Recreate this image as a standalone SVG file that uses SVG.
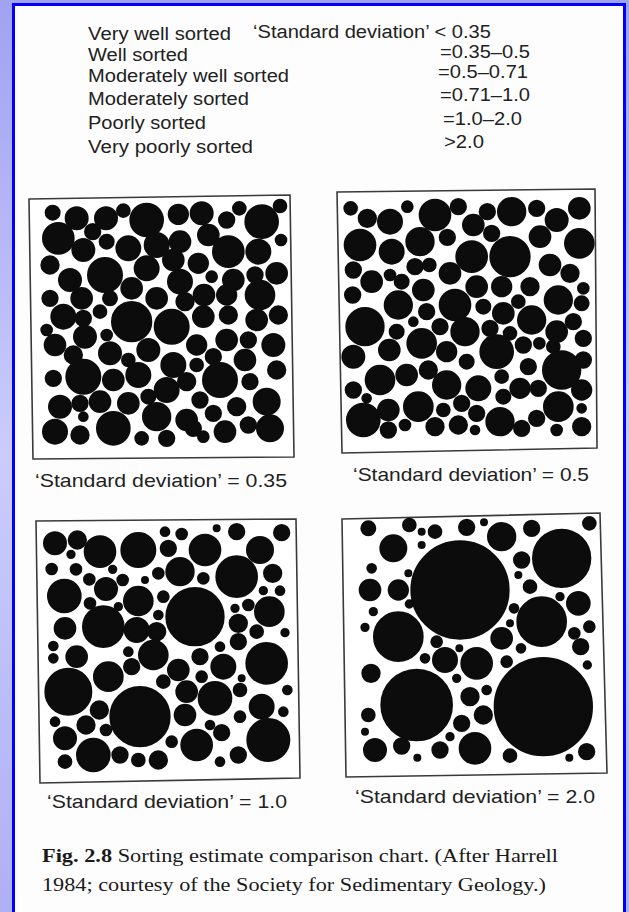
<svg xmlns="http://www.w3.org/2000/svg" width="629" height="912" viewBox="0 0 629 912">
<defs>
<linearGradient id="bg" x1="0" y1="0" x2="0" y2="1">
<stop offset="0" stop-color="#a0a2f2"/>
<stop offset="0.5" stop-color="#cbccfa"/>
<stop offset="1" stop-color="#aeb0f4"/>
</linearGradient>
<style>
.h{font-family:"Liberation Sans",Arial,sans-serif;font-size:18px;fill:#222}
.c{font-family:"Liberation Sans",Arial,sans-serif;font-size:18.5px;fill:#222}
.f{font-family:"Liberation Serif","Times New Roman",serif;font-size:19.5px;fill:#1a1a1a}
.box{fill:#fff;stroke:#3a3a3a;stroke-width:1.6}
.g circle{fill:#0c0c0c;stroke:#0c0c0c;stroke-width:8}
</style>
</defs>
<rect x="0" y="0" width="629" height="912" fill="url(#bg)"/>
<rect x="13.5" y="4.5" width="611" height="920" fill="#fdfdfd" stroke="#0000ff" stroke-width="3"/>

<g id="legend">
<text class="h" x="88" y="40" textLength="143" lengthAdjust="spacingAndGlyphs">Very well sorted</text>
<text class="h" x="253" y="38" textLength="238" lengthAdjust="spacingAndGlyphs">‘Standard deviation’ &lt; 0.35</text>
<text class="h" x="88" y="61" textLength="100" lengthAdjust="spacingAndGlyphs">Well sorted</text>
<text class="h" x="440" y="58" textLength="90" lengthAdjust="spacingAndGlyphs">=0.35–0.5</text>
<text class="h" x="88" y="82" textLength="201" lengthAdjust="spacingAndGlyphs">Moderately well sorted</text>
<text class="h" x="438" y="78" textLength="90" lengthAdjust="spacingAndGlyphs">=0.5–0.71</text>
<text class="h" x="88" y="105" textLength="161" lengthAdjust="spacingAndGlyphs">Moderately sorted</text>
<text class="h" x="440" y="101" textLength="90" lengthAdjust="spacingAndGlyphs">=0.71–1.0</text>
<text class="h" x="88" y="129" textLength="118" lengthAdjust="spacingAndGlyphs">Poorly sorted</text>
<text class="h" x="443" y="125" textLength="79" lengthAdjust="spacingAndGlyphs">=1.0–2.0</text>
<text class="h" x="88" y="153" textLength="165" lengthAdjust="spacingAndGlyphs">Very poorly sorted</text>
<text class="h" x="444" y="148" textLength="40" lengthAdjust="spacingAndGlyphs">&gt;2.0</text>
</g>

<g id="panel-035">
<polygon class="box" points="29,199 290,195 294,457 33,459"/>
<g class="g" transform="translate(0,180) scale(0.33333)">
<circle cx="158" cy="98" r="20"/><circle cx="230" cy="115" r="32"/><circle cx="318" cy="115" r="32"/><circle cx="370" cy="92" r="18"/><circle cx="440" cy="120" r="48"/><circle cx="535" cy="103" r="28"/><circle cx="605" cy="100" r="32"/><circle cx="680" cy="120" r="22"/><circle cx="718" cy="85" r="18"/><circle cx="785" cy="125" r="48"/><circle cx="840" cy="78" r="18"/>
<circle cx="175" cy="175" r="45"/><circle cx="278" cy="155" r="22"/><circle cx="250" cy="210" r="32"/><circle cx="320" cy="185" r="20"/><circle cx="385" cy="205" r="35"/><circle cx="470" cy="195" r="35"/><circle cx="540" cy="185" r="30"/><circle cx="625" cy="165" r="30"/><circle cx="685" cy="215" r="45"/><circle cx="775" cy="215" r="35"/><circle cx="843" cy="180" r="15"/>
<circle cx="150" cy="255" r="25"/><circle cx="315" cy="285" r="50"/><circle cx="210" cy="300" r="32"/><circle cx="440" cy="265" r="35"/><circle cx="520" cy="240" r="30"/><circle cx="595" cy="250" r="28"/><circle cx="395" cy="325" r="30"/><circle cx="540" cy="305" r="35"/><circle cx="635" cy="290" r="15"/><circle cx="700" cy="300" r="30"/><circle cx="765" cy="285" r="22"/><circle cx="830" cy="280" r="30"/>
<circle cx="150" cy="355" r="22"/><circle cx="245" cy="355" r="30"/><circle cx="330" cy="355" r="20"/><circle cx="470" cy="355" r="30"/><circle cx="555" cy="365" r="25"/><circle cx="612" cy="345" r="30"/><circle cx="680" cy="345" r="28"/><circle cx="780" cy="345" r="42"/><circle cx="190" cy="410" r="35"/><circle cx="300" cy="395" r="18"/><circle cx="250" cy="415" r="22"/><circle cx="395" cy="425" r="58"/><circle cx="515" cy="440" r="50"/><circle cx="610" cy="410" r="30"/><circle cx="685" cy="405" r="25"/><circle cx="770" cy="420" r="30"/><circle cx="835" cy="405" r="25"/><circle cx="140" cy="450" r="15"/>
<circle cx="255" cy="470" r="32"/><circle cx="165" cy="495" r="30"/><circle cx="320" cy="465" r="15"/><circle cx="220" cy="525" r="25"/><circle cx="330" cy="520" r="32"/><circle cx="385" cy="540" r="18"/><circle cx="445" cy="510" r="32"/><circle cx="520" cy="555" r="35"/><circle cx="590" cy="495" r="28"/><circle cx="640" cy="530" r="22"/><circle cx="680" cy="480" r="30"/><circle cx="745" cy="480" r="22"/><circle cx="820" cy="495" r="32"/><circle cx="735" cy="540" r="30"/><circle cx="590" cy="555" r="18"/>
<circle cx="160" cy="595" r="22"/><circle cx="250" cy="590" r="50"/><circle cx="340" cy="600" r="30"/><circle cx="415" cy="585" r="35"/><circle cx="560" cy="605" r="25"/><circle cx="660" cy="600" r="50"/><circle cx="750" cy="605" r="22"/><circle cx="830" cy="570" r="25"/><circle cx="500" cy="630" r="35"/>
<circle cx="180" cy="680" r="32"/><circle cx="240" cy="670" r="22"/><circle cx="300" cy="665" r="30"/><circle cx="385" cy="670" r="30"/><circle cx="445" cy="650" r="20"/><circle cx="470" cy="710" r="40"/><circle cx="560" cy="720" r="30"/><circle cx="600" cy="660" r="22"/><circle cx="640" cy="700" r="22"/><circle cx="710" cy="680" r="25"/><circle cx="800" cy="665" r="38"/><circle cx="250" cy="710" r="12"/>
<circle cx="165" cy="755" r="35"/><circle cx="240" cy="765" r="25"/><circle cx="340" cy="745" r="48"/><circle cx="425" cy="775" r="18"/><circle cx="500" cy="775" r="22"/><circle cx="580" cy="745" r="22"/><circle cx="610" cy="770" r="15"/><circle cx="675" cy="755" r="30"/><circle cx="745" cy="735" r="22"/><circle cx="810" cy="745" r="38"/>
</g>
<text class="c" x="35" y="487" textLength="252" lengthAdjust="spacingAndGlyphs">‘Standard deviation’ = 0.35</text>
</g>

<g id="panel-05">
<polygon class="box" points="337,192 595,189 597,448 342,453"/>
<g class="g" transform="translate(310,180) scale(0.33333)">
<circle cx="122" cy="85" r="18"/><circle cx="172" cy="115" r="25"/><circle cx="240" cy="125" r="35"/><circle cx="292" cy="80" r="15"/><circle cx="375" cy="105" r="45"/><circle cx="445" cy="80" r="22"/><circle cx="490" cy="135" r="30"/><circle cx="532" cy="95" r="22"/><circle cx="605" cy="95" r="40"/><circle cx="680" cy="85" r="22"/><circle cx="740" cy="120" r="32"/><circle cx="808" cy="85" r="30"/>
<circle cx="150" cy="195" r="45"/><circle cx="245" cy="215" r="35"/><circle cx="330" cy="185" r="40"/><circle cx="412" cy="172" r="22"/><circle cx="485" cy="230" r="45"/><circle cx="545" cy="160" r="22"/><circle cx="600" cy="230" r="58"/><circle cx="690" cy="170" r="30"/><circle cx="808" cy="190" r="42"/><circle cx="720" cy="255" r="30"/><circle cx="780" cy="280" r="25"/>
<circle cx="130" cy="270" r="22"/><circle cx="185" cy="305" r="30"/><circle cx="240" cy="285" r="15"/><circle cx="275" cy="305" r="20"/><circle cx="315" cy="260" r="22"/><circle cx="358" cy="255" r="18"/><circle cx="420" cy="280" r="30"/><circle cx="340" cy="330" r="30"/><circle cx="500" cy="320" r="30"/><circle cx="575" cy="320" r="28"/><circle cx="660" cy="320" r="25"/><circle cx="745" cy="360" r="40"/><circle cx="820" cy="325" r="15"/><circle cx="128" cy="345" r="22"/>
<circle cx="265" cy="375" r="40"/><circle cx="435" cy="375" r="45"/><circle cx="350" cy="395" r="22"/><circle cx="520" cy="380" r="20"/><circle cx="580" cy="400" r="30"/><circle cx="625" cy="365" r="18"/><circle cx="665" cy="420" r="40"/><circle cx="815" cy="370" r="20"/><circle cx="165" cy="440" r="55"/><circle cx="260" cy="455" r="20"/><circle cx="310" cy="425" r="12"/><circle cx="390" cy="440" r="22"/><circle cx="465" cy="455" r="40"/><circle cx="540" cy="445" r="22"/><circle cx="600" cy="460" r="18"/><circle cx="740" cy="455" r="30"/><circle cx="790" cy="425" r="22"/><circle cx="820" cy="475" r="22"/>
<circle cx="130" cy="530" r="32"/><circle cx="238" cy="510" r="30"/><circle cx="335" cy="490" r="42"/><circle cx="410" cy="515" r="28"/><circle cx="470" cy="545" r="20"/><circle cx="560" cy="515" r="48"/><circle cx="640" cy="495" r="22"/><circle cx="688" cy="490" r="15"/><circle cx="730" cy="500" r="18"/><circle cx="820" cy="540" r="22"/><circle cx="655" cy="560" r="22"/><circle cx="755" cy="570" r="55"/>
<circle cx="210" cy="600" r="42"/><circle cx="290" cy="585" r="30"/><circle cx="355" cy="570" r="25"/><circle cx="410" cy="615" r="40"/><circle cx="505" cy="625" r="35"/><circle cx="575" cy="590" r="18"/><circle cx="130" cy="630" r="22"/><circle cx="170" cy="655" r="12"/><circle cx="580" cy="650" r="20"/><circle cx="630" cy="625" r="28"/><circle cx="685" cy="625" r="22"/><circle cx="815" cy="630" r="28"/>
<circle cx="160" cy="720" r="48"/><circle cx="235" cy="690" r="30"/><circle cx="325" cy="680" r="42"/><circle cx="400" cy="690" r="18"/><circle cx="455" cy="670" r="22"/><circle cx="500" cy="700" r="22"/><circle cx="570" cy="725" r="40"/><circle cx="680" cy="715" r="22"/><circle cx="745" cy="680" r="42"/><circle cx="815" cy="685" r="12"/><circle cx="235" cy="750" r="22"/><circle cx="285" cy="735" r="15"/><circle cx="375" cy="740" r="25"/><circle cx="445" cy="735" r="25"/><circle cx="495" cy="750" r="12"/><circle cx="635" cy="745" r="22"/><circle cx="740" cy="750" r="15"/><circle cx="815" cy="740" r="25"/>
</g>
<text class="c" x="353" y="481" textLength="236" lengthAdjust="spacingAndGlyphs">‘Standard deviation’ = 0.5</text>
</g>

<g id="panel-10">
<polygon class="box" points="36,521 296,519 300,778 40,783"/>
<g class="g" transform="translate(0,490) scale(0.33333)">
<circle cx="165" cy="160" r="32"/><circle cx="232" cy="150" r="25"/><circle cx="300" cy="185" r="45"/><circle cx="415" cy="180" r="50"/><circle cx="495" cy="125" r="12"/><circle cx="545" cy="132" r="15"/><circle cx="505" cy="175" r="22"/><circle cx="615" cy="180" r="45"/><circle cx="650" cy="115" r="8"/><circle cx="710" cy="125" r="22"/><circle cx="780" cy="180" r="38"/><circle cx="845" cy="128" r="22"/><circle cx="213" cy="193" r="10"/>
<circle cx="155" cy="237" r="15"/><circle cx="228" cy="238" r="15"/><circle cx="268" cy="268" r="15"/><circle cx="318" cy="297" r="32"/><circle cx="338" cy="238" r="10"/><circle cx="368" cy="270" r="15"/><circle cx="193" cy="318" r="48"/><circle cx="270" cy="340" r="15"/><circle cx="355" cy="350" r="10"/><circle cx="415" cy="333" r="42"/><circle cx="435" cy="270" r="8"/><circle cx="490" cy="320" r="15"/><circle cx="475" cy="250" r="15"/><circle cx="540" cy="245" r="40"/><circle cx="610" cy="265" r="15"/><circle cx="710" cy="260" r="60"/><circle cx="818" cy="250" r="25"/><circle cx="790" cy="302" r="10"/><circle cx="840" cy="302" r="12"/>
<circle cx="585" cy="380" r="85"/><circle cx="475" cy="375" r="12"/><circle cx="310" cy="410" r="60"/><circle cx="195" cy="415" r="30"/><circle cx="410" cy="420" r="35"/><circle cx="470" cy="425" r="25"/><circle cx="705" cy="355" r="10"/><circle cx="745" cy="345" r="15"/><circle cx="808" cy="365" r="42"/><circle cx="715" cy="400" r="25"/><circle cx="770" cy="425" r="18"/><circle cx="855" cy="428" r="10"/>
<circle cx="160" cy="468" r="12"/><circle cx="160" cy="505" r="12"/><circle cx="230" cy="500" r="30"/><circle cx="385" cy="485" r="12"/><circle cx="460" cy="495" r="42"/><circle cx="395" cy="530" r="22"/><circle cx="535" cy="540" r="30"/><circle cx="600" cy="500" r="22"/><circle cx="660" cy="470" r="12"/><circle cx="715" cy="455" r="22"/><circle cx="670" cy="530" r="35"/><circle cx="800" cy="520" r="60"/>
<circle cx="205" cy="605" r="68"/><circle cx="325" cy="560" r="42"/><circle cx="490" cy="575" r="18"/><circle cx="560" cy="605" r="30"/><circle cx="605" cy="560" r="15"/><circle cx="645" cy="625" r="48"/><circle cx="720" cy="600" r="18"/><circle cx="725" cy="565" r="8"/><circle cx="862" cy="600" r="12"/>
<circle cx="420" cy="680" r="88"/><circle cx="298" cy="660" r="25"/><circle cx="258" cy="705" r="25"/><circle cx="318" cy="720" r="15"/><circle cx="165" cy="695" r="12"/><circle cx="555" cy="675" r="30"/><circle cx="630" cy="705" r="12"/><circle cx="665" cy="728" r="22"/><circle cx="720" cy="680" r="15"/><circle cx="785" cy="650" r="35"/><circle cx="850" cy="665" r="12"/><circle cx="805" cy="750" r="62"/>
<circle cx="195" cy="745" r="32"/><circle cx="280" cy="795" r="48"/><circle cx="195" cy="815" r="18"/><circle cx="360" cy="795" r="22"/><circle cx="415" cy="810" r="18"/><circle cx="475" cy="810" r="25"/><circle cx="515" cy="755" r="15"/><circle cx="590" cy="765" r="45"/><circle cx="660" cy="815" r="12"/><circle cx="715" cy="795" r="22"/>
</g>
<text class="c" x="47" y="808" textLength="240" lengthAdjust="spacingAndGlyphs">‘Standard deviation’ = 1.0</text>
</g>

<g id="panel-20">
<polygon class="box" points="342,519 600,513 607,773 346,777"/>
<g class="g" transform="translate(310,490) scale(0.33333)">
<circle cx="175" cy="115" r="20"/><circle cx="298" cy="105" r="18"/><circle cx="335" cy="125" r="8"/><circle cx="375" cy="125" r="18"/><circle cx="470" cy="112" r="22"/><circle cx="522" cy="97" r="8"/><circle cx="575" cy="140" r="40"/><circle cx="665" cy="115" r="22"/><circle cx="838" cy="100" r="18"/>
<circle cx="250" cy="175" r="38"/><circle cx="335" cy="165" r="8"/><circle cx="450" cy="300" r="145"/><circle cx="755" cy="205" r="85"/><circle cx="635" cy="210" r="22"/><circle cx="660" cy="290" r="18"/><circle cx="185" cy="235" r="12"/><circle cx="295" cy="250" r="8"/><circle cx="625" cy="255" r="8"/>
<circle cx="180" cy="300" r="30"/><circle cx="265" cy="300" r="28"/><circle cx="805" cy="340" r="33"/><circle cx="750" cy="320" r="10"/><circle cx="298" cy="342" r="10"/><circle cx="190" cy="365" r="10"/><circle cx="612" cy="355" r="12"/><circle cx="695" cy="395" r="72"/><circle cx="265" cy="440" r="72"/><circle cx="165" cy="412" r="10"/><circle cx="380" cy="455" r="15"/><circle cx="575" cy="445" r="30"/><circle cx="838" cy="410" r="15"/><circle cx="793" cy="430" r="15"/><circle cx="812" cy="470" r="22"/><circle cx="448" cy="475" r="8"/><circle cx="600" cy="400" r="8"/>
<circle cx="345" cy="505" r="12"/><circle cx="405" cy="510" r="35"/><circle cx="500" cy="520" r="45"/><circle cx="590" cy="515" r="15"/><circle cx="633" cy="475" r="12"/><circle cx="183" cy="550" r="25"/><circle cx="832" cy="525" r="10"/>
<circle cx="320" cy="645" r="105"/><circle cx="700" cy="650" r="145"/><circle cx="440" cy="565" r="10"/><circle cx="480" cy="620" r="25"/><circle cx="530" cy="600" r="12"/><circle cx="175" cy="675" r="18"/><circle cx="520" cy="675" r="25"/><circle cx="455" cy="700" r="22"/><circle cx="420" cy="740" r="10"/><circle cx="165" cy="725" r="8"/>
<circle cx="195" cy="780" r="32"/><circle cx="275" cy="768" r="22"/><circle cx="322" cy="803" r="8"/><circle cx="390" cy="780" r="22"/><circle cx="495" cy="775" r="45"/><circle cx="600" cy="797" r="18"/><circle cx="778" cy="803" r="8"/><circle cx="830" cy="785" r="22"/>
</g>
<text class="c" x="355" y="803" textLength="240" lengthAdjust="spacingAndGlyphs">‘Standard deviation’ = 2.0</text>
</g>

<g id="caption">
<text class="f" x="42" y="862" textLength="516" lengthAdjust="spacingAndGlyphs"><tspan font-weight="bold">Fig. 2.8</tspan>  Sorting estimate comparison chart. (After Harrell</text>
<text class="f" x="42" y="891" textLength="504" lengthAdjust="spacingAndGlyphs">1984; courtesy of the Society for Sedimentary Geology.)</text>
</g>
</svg>
